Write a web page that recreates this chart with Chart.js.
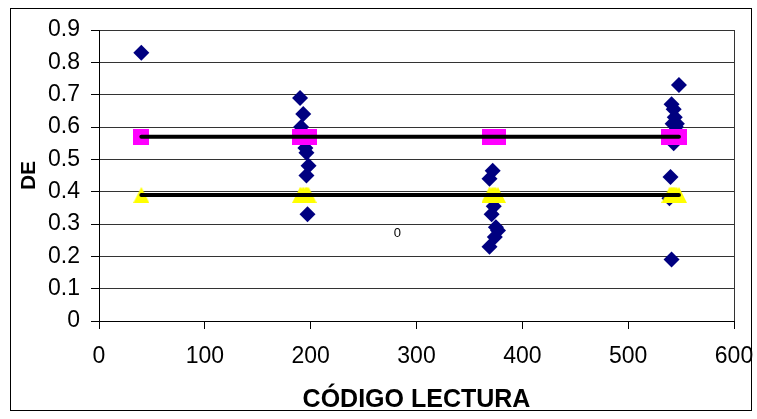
<!DOCTYPE html>
<html lang="es">
<head>
<meta charset="UTF-8">
<title>DE por código de lectura</title>
<script src="https://cdn.jsdelivr.net/npm/chart.js@4.4.1/dist/chart.umd.min.js"></script>
<style>
  body { margin: 0; background: #fff; }
  #wrap { width: 757px; height: 419px; }
</style>
</head>
<body>
<div id="wrap"><canvas id="chart" width="757" height="419"></canvas></div>
<script>
// lecturas: codigo y DE de cada una
const codigos = [40,
  190, 193, 191, 193, 195, 196, 198, 196, 197,
  372, 369, 373, 371, 375, 377, 374, 369,
  548, 541, 543, 544, 542, 546, 545, 543, 540, 539, 541];
const valoresDE = [0.83,
  0.69, 0.64, 0.60, 0.56, 0.535, 0.52, 0.48, 0.45, 0.33,
  0.465, 0.44, 0.355, 0.33, 0.29, 0.28, 0.26, 0.23,
  0.73, 0.67, 0.655, 0.63, 0.61, 0.61, 0.60, 0.55, 0.445, 0.38, 0.19];
const mediaDE = 0.57;      // linea de la media
const limiteDE = 0.39;     // linea del limite inferior
const yTickLabels = ['0','0.1','0.2','0.3','0.4','0.5','0.6','0.7','0.8','0.9'];
const xTickLabels = ['0','100','200','300','400','500','600'];
const nota = { x: 282, y: 0.27, texto: '0' };

const ordenados = codigos.slice().sort((a, b) => a - b);
const puntos = codigos.map((c, i) => ({ x: c, y: valoresDE[i] }));
const puntosMedia = ordenados.map(c => ({ x: c, y: mediaDE }));
const puntosLimite = ordenados.map(c => ({ x: c, y: limiteDE }));

// marcadores tipo excel (centrados en su caja)
function marcador(forma, color, w, h) {
  const c = document.createElement('canvas');
  c.width = w; c.height = h;
  const g = c.getContext('2d');
  g.fillStyle = color;
  g.beginPath();
  if (forma === 'tri') {
    g.moveTo(w / 2, 0); g.lineTo(w, h); g.lineTo(0, h);
  } else {
    g.rect(0, 0, w, h);
  }
  g.closePath();
  g.fill();
  return c;
}
const cuadro = marcador('rect', '#ff00ff', 16, 16);
const triangulo = marcador('tri', '#ffff00', 16, 16);

const extras = {
  id: 'extras',
  beforeDraw(chart) {
    const ctx = chart.ctx;
    ctx.save();
    ctx.fillStyle = '#fff';
    ctx.fillRect(0, 0, chart.width, chart.height);
    ctx.restore();
  },
  afterDraw(chart) {
    const ctx = chart.ctx, a = chart.chartArea;
    const sx = chart.scales.x, sy = chart.scales.y;
    ctx.save();
    ctx.strokeStyle = '#000';
    ctx.lineWidth = 1;
    ctx.strokeRect(10.5, 8.5, 741, 402);
    ctx.strokeStyle = '#333';
    ctx.beginPath();
    ctx.moveTo(Math.round(a.right) + 0.5, a.top);
    ctx.lineTo(Math.round(a.right) + 0.5, a.bottom);
    ctx.stroke();
    ctx.fillStyle = '#000';
    ctx.font = '13px "Liberation Sans", Arial, sans-serif';
    ctx.textAlign = 'center';
    ctx.textBaseline = 'middle';
    ctx.fillText(nota.texto, sx.getPixelForValue(nota.x), sy.getPixelForValue(nota.y));
    ctx.restore();
  }
};

new Chart(document.getElementById('chart'), {
  type: 'scatter',
  data: {
    datasets: [
      { type: 'line', data: puntosMedia, borderColor: '#000', borderWidth: 4,
        borderCapStyle: 'round', pointRadius: 0, fill: false, order: 0 },
      { type: 'line', data: puntosLimite, borderColor: '#000', borderWidth: 4,
        borderCapStyle: 'round', pointRadius: 0, fill: false, order: 0 },
      { data: puntosLimite, pointStyle: triangulo, order: 1 },
      { data: puntosMedia, pointStyle: cuadro, order: 2 },
      { data: puntos, pointStyle: 'rectRot', pointRadius: 8,
        backgroundColor: '#000080', borderColor: '#000080', borderWidth: 0, order: 3 }
    ]
  },
  options: {
    responsive: false,
    animation: false,
    devicePixelRatio: 1,
    layout: { padding: { top: 30, right: 23, left: 0, bottom: 0 } },
    plugins: { legend: { display: false }, tooltip: { enabled: false } },
    scales: {
      x: {
        type: 'linear', min: 0, max: 600,
        afterFit(s) { s.height = 98; s.paddingLeft = 0; s.paddingRight = 0; },
        border: { color: '#000', width: 1 },
        grid: { drawOnChartArea: false, drawTicks: true, tickLength: 8, color: '#000' },
        ticks: {
          stepSize: 100, color: '#000', padding: 14, maxRotation: 0,
          font: { family: '"Liberation Sans Narrow", "Liberation Sans", Arial', size: 23 },
          callback: (v, i) => xTickLabels[i]
        },
        title: {
          display: true, text: 'CÓDIGO LECTURA', color: '#000',
          font: { family: '"Liberation Sans", Arial', size: 25, weight: 'bold' },
          padding: { top: 0, bottom: 4 }
        }
      },
      y: {
        type: 'linear', min: 0, max: 0.9,
        afterFit(s) { s.width = 99; s.paddingTop = 0; s.paddingBottom = 0; },
        border: { color: '#000', width: 1 },
        grid: { color: '#333', tickLength: 8, tickColor: '#000' },
        ticks: {
          stepSize: 0.1, color: '#000', padding: 11,
          font: { family: '"Liberation Sans", Arial', size: 23 },
          callback: (v, i) => yTickLabels[i]
        },
        title: {
          display: true, text: 'DE', color: '#000',
          font: { family: '"Liberation Sans", Arial', size: 21, weight: 'bold' },
          padding: { top: 17, bottom: 0 }
        }
      }
    }
  },
  plugins: [extras]
});
</script>
</body>
</html>
